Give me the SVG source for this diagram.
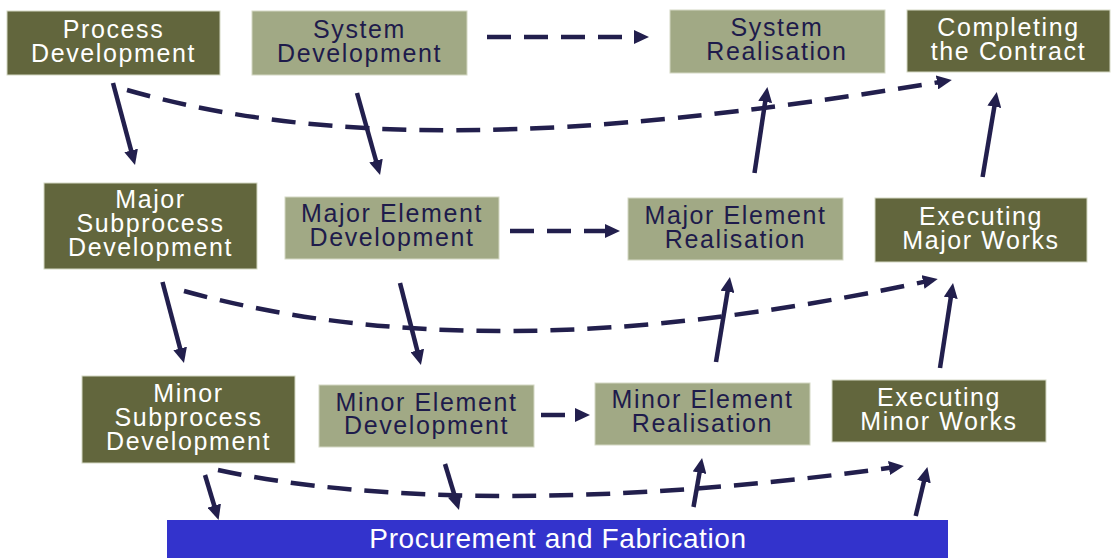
<svg xmlns="http://www.w3.org/2000/svg" width="1113" height="558" viewBox="0 0 1113 558">
<style>
.dk rect{fill:#62663d;stroke:#d4d8c4;stroke-width:1}
.lt rect{fill:#a1a985;stroke:#d4d8c4;stroke-width:1}
text{font-family:"Liberation Sans",Arial,sans-serif;font-size:25px;text-anchor:middle;letter-spacing:1.6px}
.dk text{fill:#ffffff}
.lt text{fill:#1e1b4b}
.bar rect{fill:#3333cc}
.bar text{fill:#ffffff;font-size:28px;letter-spacing:0.6px}
.c path{fill:none;stroke:#221f4d;stroke-width:4.5;marker-end:url(#ah)}
.c .d{stroke-dasharray:24 13}
</style>
<defs>
<marker id="ah" viewBox="0 -7 15 14" refX="3" refY="0" markerWidth="15" markerHeight="14" markerUnits="userSpaceOnUse" orient="auto">
<path d="M0,-7 L15,0 L0,7 z" fill="#221f4d"/>
</marker>
</defs>
<g id="n-process-dev" class="dk"><rect x="7" y="11" width="213" height="64"/><text x="113.5" y="38">Process</text><text x="113.5" y="62">Development</text></g>
<g id="n-system-dev" class="lt"><rect x="252" y="11" width="215" height="64"/><text x="359.5" y="38">System</text><text x="359.5" y="62">Development</text></g>
<g id="n-system-real" class="lt"><rect x="670" y="10" width="215" height="63"/><text x="777" y="36">System</text><text x="777" y="60">Realisation</text></g>
<g id="n-completing" class="dk"><rect x="907" y="10" width="203" height="62"/><text x="1008.5" y="36">Completing</text><text x="1008.5" y="60">the Contract</text></g>
<g id="n-major-sub" class="dk"><rect x="44" y="183" width="213" height="86"/><text x="150.5" y="208">Major</text><text x="150.5" y="232">Subprocess</text><text x="150.5" y="256">Development</text></g>
<g id="n-major-el-dev" class="lt"><rect x="285" y="197" width="214" height="62"/><text x="392" y="222">Major Element</text><text x="392" y="246">Development</text></g>
<g id="n-major-el-real" class="lt"><rect x="628" y="198" width="215" height="62"/><text x="735.5" y="224">Major Element</text><text x="735.5" y="248">Realisation</text></g>
<g id="n-exec-major" class="dk"><rect x="875" y="198" width="212" height="64"/><text x="981" y="225">Executing</text><text x="981" y="249">Major Works</text></g>
<g id="n-minor-sub" class="dk"><rect x="82" y="376" width="213" height="87"/><text x="188.5" y="402">Minor</text><text x="188.5" y="426">Subprocess</text><text x="188.5" y="450">Development</text></g>
<g id="n-minor-el-dev" class="lt"><rect x="319" y="385" width="215" height="62"/><text x="426.5" y="411">Minor Element</text><text x="426.5" y="434">Development</text></g>
<g id="n-minor-el-real" class="lt"><rect x="595" y="383" width="215" height="62"/><text x="702.5" y="408">Minor Element</text><text x="702.5" y="432">Realisation</text></g>
<g id="n-exec-minor" class="dk"><rect x="832" y="380" width="214" height="62"/><text x="939" y="406">Executing</text><text x="939" y="430">Minor Works</text></g>
<g id="n-procurement" class="bar"><rect x="167" y="520" width="781" height="40"/><text x="558" y="548">Procurement and Fabrication</text></g>
<g id="connectors" class="c">
<path d="M113,83 L131.9,153.4"/>
<path d="M357,93 L376.8,163.5"/>
<path d="M162.5,282 L180.9,351.4"/>
<path d="M400,283 L418,353.4"/>
<path d="M205,475 L215.1,508.5"/>
<path d="M445,464 L455.5,498.5"/>
<path d="M693.5,507 L700,469.8"/>
<path d="M915.7,516 L924.6,478.7"/>
<path d="M716,362 L728,288.8"/>
<path d="M940,368 L951.2,294.9"/>
<path d="M754.5,173 L765.6,98.9"/>
<path d="M982.6,177 L994.8,103.8"/>
<path class="d" d="M487,37 L637,37"/>
<path class="d" d="M510,231 L608,231"/>
<path class="d" d="M541,415 L578,415"/>
<path class="d" d="M127,90 C320,145 560,145 940,82"/>
<path class="d" d="M184,291 C380,345 620,347 926,281.4"/>
<path class="d" d="M218,470 C380,505 620,505 892,467.6"/>
</g>
</svg>
